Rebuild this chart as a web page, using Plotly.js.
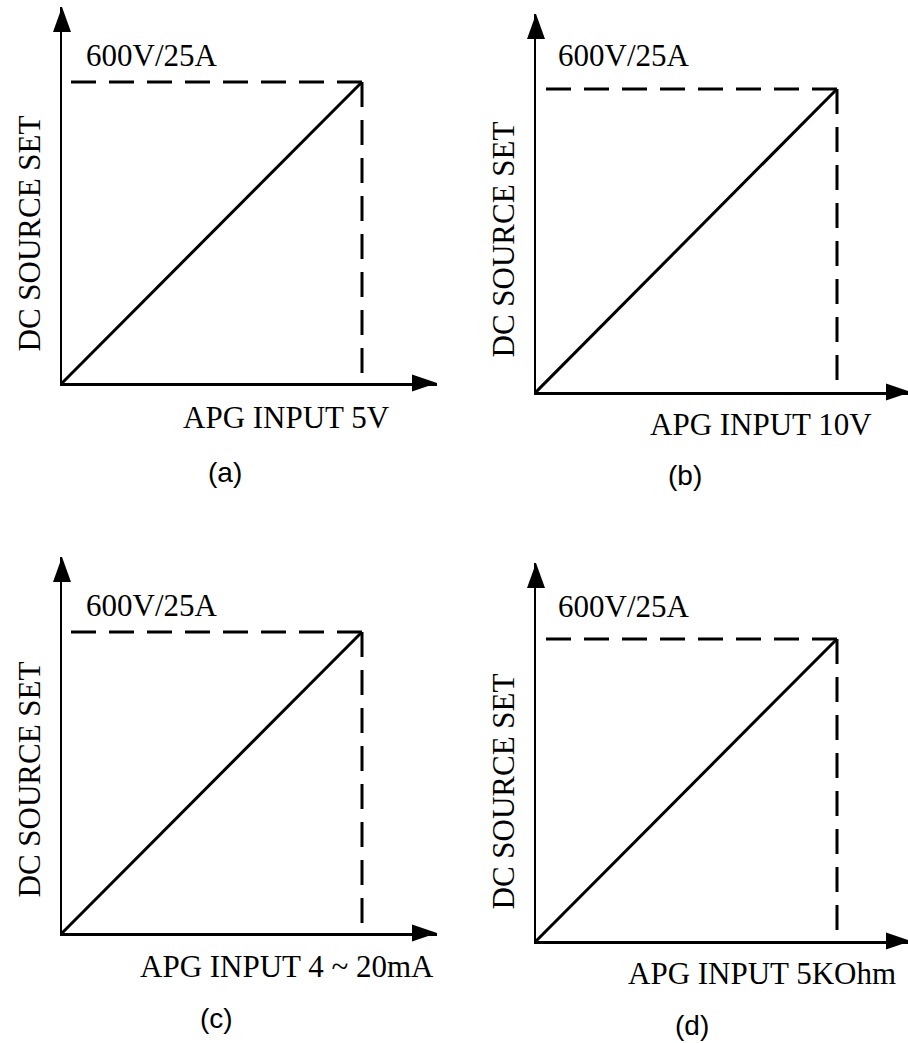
<!DOCTYPE html>
<html>
<head>
<meta charset="utf-8">
<script src="https://cdn.plot.ly/plotly-3.0.1.min.js"></script>
<style>
html,body{margin:0;padding:0;background:#ffffff;}
#chart{width:908px;height:1043px;}
</style>
</head>
<body>
<div id="chart"></div>
<script>
// ---- chart content ----
const panelTags = ['(a)', '(b)', '(c)', '(d)'];
const inputTitles = ['APG INPUT 5V', 'APG INPUT 10V', 'APG INPUT 4 ~ 20mA', 'APG INPUT 5KOhm'];
const outputTitle = 'DC SOURCE SET';
const fullScaleLabel = '600V/25A';
const inputMin = [0, 0, 4, 0];
const inputMax = [5, 10, 20, 5];
const outputMin = [0, 0, 0, 0];
const outputMax = [600, 600, 600, 600];

// ---- layout geometry (pixels) ----
const W = 908, H = 1043;
// ox/oy: origin, cx/cy: full-scale corner, tx: x-arrow tip, ty: y-arrow tip
const geom = [
  {ox: 62,  oy: 383, cx: 362, cy: 82,  tx: 437, ty: 7},
  {ox: 536, oy: 392, cx: 837, cy: 89,  tx: 911, ty: 14},
  {ox: 62,  oy: 933, cx: 362, cy: 632, tx: 437, ty: 557},
  {ox: 536, oy: 941, cx: 837, cy: 639, tx: 911, ty: 563}
];
// text centres in pixels
const textPos = [
  {full: [152, 55],    xt: [286, 417],   tag: [225, 473],   yt: [28.5, 234]},
  {full: [623.5, 55],  xt: [760.5, 425], tag: [684.5, 475], yt: [502.5, 240]},
  {full: [152, 605],   xt: [287, 966],   tag: [216.5, 1018], yt: [28.5, 780]},
  {full: [623.5, 606], xt: [762, 973.5], tag: [691.5, 1025], yt: [502.5, 792]}
];

const serif = 'Liberation Serif, Times New Roman, serif';
const sans = 'Liberation Sans, Arial, sans-serif';
const px = v => v / W;
const py = v => 1 - v / H;

const traces = [];
const shapes = [];
const annotations = [];
const layout = {
  width: W, height: H,
  margin: {l: 0, r: 0, t: 0, b: 0, pad: 0},
  paper_bgcolor: '#ffffff',
  plot_bgcolor: 'rgba(0,0,0,0)',
  showlegend: false,
  hovermode: false
};

for (let i = 0; i < 4; i++) {
  const n = i === 0 ? '' : String(i + 1);
  const xa = 'x' + n, ya = 'y' + n;
  const g = geom[i];
  const xEnd = Math.min(g.tx, W);
  const xSpan = inputMax[i] - inputMin[i];
  const ySpan = outputMax[i] - outputMin[i];
  const axisCommon = {
    showline: true, linecolor: '#000000', linewidth: 2.5,
    showgrid: false, zeroline: false, showticklabels: false,
    ticks: '', fixedrange: true
  };
  layout['xaxis' + n] = Object.assign({}, axisCommon, {
    domain: [px(g.ox), px(xEnd)],
    range: [inputMin[i], inputMin[i] + xSpan * (xEnd - g.ox) / (g.cx - g.ox)],
    anchor: ya
  });
  layout['yaxis' + n] = Object.assign({}, axisCommon, {
    domain: [py(g.oy), py(g.ty)],
    range: [outputMin[i], outputMin[i] + ySpan * (g.oy - g.ty) / (g.oy - g.cy)],
    anchor: xa
  });

  // linear transfer line
  traces.push({
    type: 'scatter', mode: 'lines', xaxis: xa, yaxis: ya, cliponaxis: false,
    x: [inputMin[i], inputMax[i]],
    y: [outputMin[i], outputMax[i]],
    line: {color: '#000000', width: 3}
  });
  // dashed full-scale guides (start at the corner)
  traces.push({
    type: 'scatter', mode: 'lines', xaxis: xa, yaxis: ya, cliponaxis: false,
    connectgaps: false,
    x: [inputMax[i], inputMin[i], null, inputMax[i], inputMax[i]],
    y: [outputMax[i], outputMax[i], null, outputMax[i], outputMin[i]],
    line: {color: '#000000', width: 3, dash: '25px,13px'}
  });

  // arrowheads
  shapes.push({
    type: 'path', xref: 'paper', yref: 'paper',
    xsizemode: 'pixel', ysizemode: 'pixel',
    xanchor: px(g.ox), yanchor: py(g.ty),
    path: 'M0,0L-9,-25L9,-25Z',
    fillcolor: '#000000', line: {width: 0}, layer: 'above'
  });
  shapes.push({
    type: 'path', xref: 'paper', yref: 'paper',
    xsizemode: 'pixel', ysizemode: 'pixel',
    xanchor: px(g.tx), yanchor: py(g.oy),
    path: 'M0,0L-25,8.5L-25,-8.5Z',
    fillcolor: '#000000', line: {width: 0}, layer: 'above'
  });

  const t = textPos[i];
  annotations.push({
    xref: 'paper', yref: 'paper', x: px(t.full[0]), y: py(t.full[1]),
    xanchor: 'center', yanchor: 'middle', showarrow: false,
    text: fullScaleLabel, font: {family: serif, size: 31, color: '#000000'}
  });
  annotations.push({
    xref: 'paper', yref: 'paper', x: px(t.xt[0]), y: py(t.xt[1]),
    xanchor: 'center', yanchor: 'middle', showarrow: false,
    text: inputTitles[i], font: {family: serif, size: 31, color: '#000000'}
  });
  annotations.push({
    xref: 'paper', yref: 'paper', x: px(t.yt[0]), y: py(t.yt[1]),
    xanchor: 'center', yanchor: 'middle', showarrow: false, textangle: -90,
    text: outputTitle, font: {family: serif, size: 31, color: '#000000'}
  });
  annotations.push({
    xref: 'paper', yref: 'paper', x: px(t.tag[0]), y: py(t.tag[1]),
    xanchor: 'center', yanchor: 'middle', showarrow: false,
    text: panelTags[i], font: {family: sans, size: 28, color: '#000000'}
  });
}

layout.shapes = shapes;
layout.annotations = annotations;

Plotly.newPlot('chart', traces, layout, {displayModeBar: false, staticPlot: true});
</script>
</body>
</html>
